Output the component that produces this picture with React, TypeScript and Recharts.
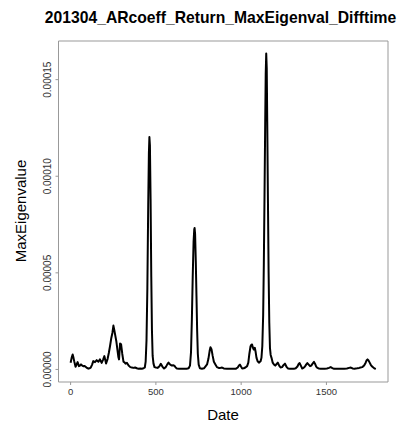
import React from 'react';
import { LineChart, Line, XAxis, YAxis, ReferenceArea } from 'recharts';

const FONT = '"Liberation Sans", Arial, Helvetica, sans-serif';

// observation index (Date axis)
const dates = [
  0, 6, 12, 17, 21, 29, 35, 41, 49, 55, 61, 68, 74, 81, 88, 96, 104, 111, 118, 126,
  133, 143, 153, 163, 172, 182, 190, 198, 208, 217, 224, 231, 238, 245, 251, 256, 261, 268, 274, 280,
  284, 290, 296, 303, 310, 315, 322, 330, 340, 350, 359, 368, 378, 388, 398, 408, 418, 428, 435, 440,
  445, 450, 455, 459, 462, 465, 469, 473, 477, 481, 486, 492, 500, 510, 520, 529, 538, 548, 558, 566,
  574, 584, 594, 601, 608, 616, 623, 635, 650, 665, 680, 692, 700, 706, 711, 716, 721, 725, 727, 730,
  734, 738, 742, 746, 751, 758, 770, 782, 790, 800, 808, 815, 820, 826, 833, 840, 849, 858, 868, 878,
  888, 898, 917, 937, 957, 970, 980, 987, 993, 999, 1006, 1015, 1025, 1035, 1042, 1048, 1055, 1060, 1064, 1068,
  1074, 1080, 1085, 1090, 1097, 1104, 1110, 1114, 1119, 1124, 1129, 1133, 1137, 1141, 1144, 1147, 1150, 1153, 1157, 1161,
  1165, 1169, 1173, 1178, 1185, 1192, 1200, 1208, 1215, 1223, 1231, 1240, 1248, 1257, 1265, 1274, 1285, 1297, 1309, 1320,
  1330, 1337, 1343, 1350, 1358, 1366, 1374, 1381, 1388, 1396, 1404, 1411, 1419, 1427, 1433, 1440, 1447, 1456, 1466, 1476,
  1490, 1503, 1515, 1525, 1535, 1545, 1560, 1575, 1590, 1605, 1620, 1633, 1643, 1653, 1665, 1680, 1692, 1700, 1710, 1721,
  1730, 1736, 1741, 1746, 1752, 1760, 1768, 1775, 1782, 1790,
];

// max eigenvalue, in units of 1e-5
const maxEigenE5 = [
  0.35, 0.6, 0.77, 0.6, 0.43, 0.14, 0.25, 0.38, 0.17, 0.2, 0.26, 0.2, 0.17, 0.18, 0.14, 0.08, 0.04, 0.06, 0.09, 0.25,
  0.43, 0.38, 0.48, 0.4, 0.52, 0.34, 0.5, 0.69, 0.31, 0.55, 0.85, 1.2, 1.6, 1.89, 2.27, 2.05, 1.8, 1.46, 1.05, 0.65,
  0.52, 1.34, 1.3, 0.8, 0.4, 0.38, 0.3, 0.34, 0.2, 0.12, 0.1, 0.08, 0.1, 0.06, 0.04, 0.05, 0.04, 0.06, 0.1, 0.4,
  1.5, 4.2, 8.5, 11.2, 12.03, 11.6, 8.8, 4.8, 2.0, 0.7, 0.3, 0.12, 0.1, 0.08, 0.15, 0.29, 0.15, 0.05, 0.12, 0.25,
  0.35, 0.25, 0.2, 0.22, 0.2, 0.1, 0.05, 0.04, 0.03, 0.03, 0.04, 0.06, 0.2, 0.9, 2.6, 4.8, 6.6, 7.25, 7.32, 7.0,
  5.6, 3.8, 2.0, 0.8, 0.25, 0.06, 0.04, 0.06, 0.15, 0.26, 0.55, 0.95, 1.15, 1.05, 0.7, 0.4, 0.26, 0.12, 0.08, 0.08,
  0.1, 0.05, 0.03, 0.03, 0.03, 0.04, 0.1, 0.2, 0.25, 0.15, 0.05, 0.06, 0.1, 0.17, 0.35, 0.8, 1.2, 1.28, 1.29, 1.15,
  1.03, 1.12, 0.9, 0.6, 0.42, 0.35, 0.4, 0.43, 0.6, 1.2, 2.8, 5.5, 9.0, 12.8, 15.3, 16.35, 15.6, 12.8, 8.8, 5.0,
  2.4, 1.1, 0.75, 0.6, 0.35, 0.26, 0.2, 0.28, 0.35, 0.2, 0.1, 0.12, 0.22, 0.3, 0.15, 0.05, 0.04, 0.04, 0.03, 0.06,
  0.15, 0.28, 0.33, 0.2, 0.05, 0.08, 0.15, 0.25, 0.33, 0.25, 0.17, 0.2, 0.3, 0.39, 0.3, 0.15, 0.08, 0.05, 0.04, 0.03,
  0.04, 0.05, 0.08, 0.12, 0.07, 0.03, 0.03, 0.04, 0.03, 0.04, 0.05, 0.08, 0.1, 0.05, 0.04, 0.06, 0.08, 0.1, 0.12, 0.2,
  0.35, 0.48, 0.52, 0.48, 0.38, 0.24, 0.15, 0.1, 0.05, 0.03,
];

const xTicks = [0, 500, 1000, 1500];
const yTicks = [0, 0.00005, 0.0001, 0.00015];

const X_DOMAIN: [number, number] = [-71, 1861];
const Y_DOMAIN: [number, number] = [-0.0000065, 0.00017];

const data = dates.map((d, i) => ({ date: d, value: maxEigenE5[i] * 1e-5 }));

// rotated tick labels like base R's default las=0 on the left axis
const YTick = (props: any) => {
  const { x, y, payload } = props;
  return (
    <text
      x={x}
      y={y}
      transform={`rotate(-90, ${x}, ${y})`}
      textAnchor="middle"
      fontSize={10}
      fontFamily={FONT}
      fill="#333"
    >
      {Number(payload.value).toFixed(5)}
    </text>
  );
};

export default function App() {
  return (
    <div style={{ position: 'absolute', left: 0, top: 0, width: 405, height: 428, background: '#fff' }}>
      <LineChart
        width={405}
        height={428}
        data={data}
        margin={{ top: 41, right: 17, bottom: 16, left: 18.5 }}
      >
        <XAxis
          dataKey="date"
          type="number"
          domain={X_DOMAIN}
          ticks={xTicks}
          allowDataOverflow
          axisLine={false}
          tickLine={{ stroke: '#999' }}
          tickSize={3}
          tickMargin={3}
          height={30}
          tick={{ fontSize: 9.5, fill: '#333', fontFamily: FONT }}
        />
        <YAxis
          type="number"
          domain={Y_DOMAIN}
          ticks={yTicks}
          allowDataOverflow
          axisLine={false}
          tickLine={{ stroke: '#999' }}
          tickSize={3}
          tickMargin={4.5}
          width={40}
          tick={<YTick />}
        />
        <ReferenceArea
          x1={X_DOMAIN[0]}
          x2={X_DOMAIN[1]}
          y1={Y_DOMAIN[0]}
          y2={Y_DOMAIN[1]}
          fill="none"
          stroke="#999"
          strokeWidth={1}
          ifOverflow="visible"
        />
        <Line
          type="linear"
          dataKey="value"
          stroke="#000"
          strokeWidth={2}
          strokeLinejoin="round"
          dot={false}
          isAnimationActive={false}
        />
      </LineChart>
      <svg
        width={405}
        height={428}
        style={{ position: 'absolute', left: 0, top: 0, pointerEvents: 'none' }}
      >
        <text x={220.5} y={23} textAnchor="middle" fontSize={15.7} fontWeight="bold" fontFamily={FONT} fill="#000">
          201304_ARcoeff_Return_MaxEigenval_Difftime
        </text>
        <text x={223} y={420} textAnchor="middle" fontSize={15} fontFamily={FONT} fill="#000">
          Date
        </text>
        <text
          x={26}
          y={211}
          transform="rotate(-90, 26, 211)"
          textAnchor="middle"
          fontSize={15}
          fontFamily={FONT}
          fill="#000"
        >
          MaxEigenvalue
        </text>
      </svg>
    </div>
  );
}
